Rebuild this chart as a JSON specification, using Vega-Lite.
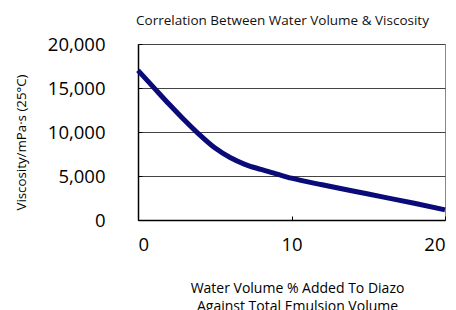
{
  "$schema": "https://vega.github.io/schema/vega-lite/v6.json",
  "width": 307,
  "height": 176,
  "autosize": "none",
  "padding": {"left": 138, "top": 44, "right": 11, "bottom": 90},
  "background": "white",
  "config": {
    "font": "Open Sans",
    "view": {"stroke": "#888", "strokeWidth": 1}
  },
  "title": {
    "text": "Correlation Between Water Volume & Viscosity",
    "fontSize": 13.5,
    "fontWeight": "normal",
    "font": "Open Sans",
    "color": "#111",
    "anchor": "middle",
    "dx": -9,
    "offset": 8
  },
  "data": {
    "values": [
      {"water": 0, "viscosity": 17000},
      {"water": 1, "viscosity": 15100},
      {"water": 2, "viscosity": 13200},
      {"water": 3, "viscosity": 11400},
      {"water": 4, "viscosity": 9700},
      {"water": 5, "viscosity": 8200},
      {"water": 6, "viscosity": 7100},
      {"water": 7, "viscosity": 6300},
      {"water": 8, "viscosity": 5750},
      {"water": 9, "viscosity": 5250},
      {"water": 10, "viscosity": 4750},
      {"water": 12, "viscosity": 4000},
      {"water": 14, "viscosity": 3300},
      {"water": 16, "viscosity": 2600},
      {"water": 18, "viscosity": 1900},
      {"water": 20, "viscosity": 1150}
    ]
  },
  "mark": {"type": "line", "color": "#0a0a78", "strokeWidth": 5, "interpolate": "monotone", "strokeCap": "butt"},
  "encoding": {
    "x": {
      "field": "water",
      "type": "quantitative",
      "scale": {"domain": [0, 20], "nice": false},
      "axis": {
        "values": [0, 10, 20],
        "grid": false,
        "ticks": true,
        "tickSize": -4,
        "tickColor": "#000",
        "domainColor": "#000",
        "domainWidth": 1.5,
        "labelFontSize": 18.5,
        "labelColor": "#000",
        "labelPadding": 19,
        "title": ["Water Volume % Added To Diazo", "Against Total Emulsion Volume"],
        "titleFontSize": 14,
        "titleFontWeight": "normal",
        "titleColor": "#000",
        "titleLineHeight": 18,
        "titleX": 159,
        "titleY": 61,
        "titleAnchor": "middle",
        "titleAlign": "center",
        "titleBaseline": "top"
      }
    },
    "y": {
      "field": "viscosity",
      "type": "quantitative",
      "scale": {"domain": [0, 20000], "nice": false},
      "axis": {
        "values": [0, 5000, 10000, 15000, 20000],
        "format": ",.0f",
        "grid": true,
        "gridColor": "#444",
        "gridWidth": 1,
        "ticks": true,
        "tickSize": -4,
        "tickColor": "#000",
        "domainColor": "#000",
        "domainWidth": 1.5,
        "labelFontSize": 18.5,
        "labelColor": "#000",
        "labelPadding": 37,
        "title": "Viscosity/mPa·s (25°C)",
        "titleFontSize": 13.3,
        "titleFontWeight": "normal",
        "titleColor": "#000",
        "titleAngle": -90,
        "titleX": -117,
        "titleY": 98,
        "titleAlign": "center",
        "titleBaseline": "middle"
      }
    }
  }
}
